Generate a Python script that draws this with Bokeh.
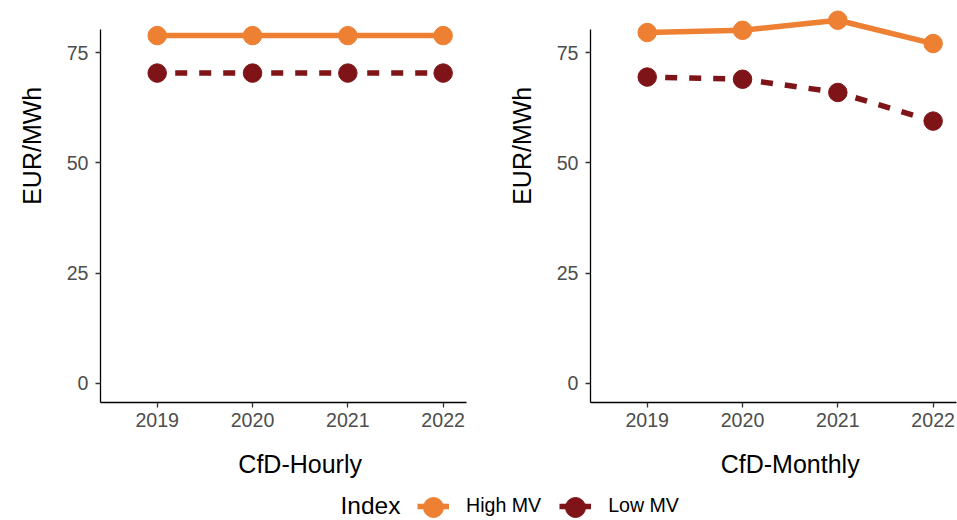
import math
from bokeh.plotting import figure
from bokeh.models import Range1d, FixedTicker, Legend, LegendItem, Label, ColumnDataSource
from bokeh.layouts import column, row
from bokeh.embed import file_html
from bokeh.resources import INLINE

# ---- data ----
years = [2019, 2020, 2021, 2022]
hourly_high = [78.9, 78.9, 78.9, 78.9]
hourly_low = [70.4, 70.4, 70.4, 70.4]
monthly_high = [79.6, 80.1, 82.4, 77.1]
monthly_low = [69.5, 69.0, 66.0, 59.5]
panel_titles = ["CfD-Hourly", "CfD-Monthly"]
series_names = ["High MV", "Low MV"]
legend_title = "Index"
y_label = "EUR/MWh"
y_ticks = [0, 25, 50, 75]

ORANGE = "#ED8033"
DARKRED = "#7F1418"
FONT = "Liberation Sans"
TICK_FS = "19.6px"
TITLE_FS = "25px"

X_START, X_END = 2018.405, 2022.245
Y_START, Y_END = -4.38, 84.83
Y_AXIS_TOP = 80.3

# ---- layout geometry (pixels) ----
FRAME_W, FRAME_H = 366, 393
TOP_H = 440            # height of the panel row
STRIP_H = 80           # height of the bottom strip (x titles + legend)
YLAB_W = 50            # width of the strip holding each y title
BORDER_L = [50, 54]    # left border of each panel figure
BORDER_R = [20, 1]
YTITLE_GAP = 68.3      # y-title baseline distance left of the frame
PX_X = FRAME_W / (X_END - X_START)
X_MID = sum(years) / len(years)


def blank(width, height):
    f = figure(width=width, height=height, x_range=Range1d(0, 1), y_range=Range1d(0, 1),
               x_axis_location=None, y_axis_location=None, min_border=0,
               toolbar_location=None, output_backend="svg")
    f.outline_line_color = None
    f.xgrid.visible = False
    f.ygrid.visible = False
    return f


def make_panel(high, low, border_left, border_right):
    p = figure(width=border_left + FRAME_W + border_right, height=TOP_H,
               x_range=Range1d(X_START, X_END), y_range=Range1d(Y_START, Y_END),
               output_backend="svg", toolbar_location=None,
               min_border_left=border_left, min_border_right=border_right,
               min_border_top=9, min_border_bottom=TOP_H - 9 - FRAME_H)
    p.outline_line_color = None
    p.xgrid.visible = False
    p.ygrid.visible = False

    src = ColumnDataSource(dict(year=years, high=high, low=low))
    p.line("year", "low", source=src, line_color=DARKRED, line_width=5.5,
           line_dash="12 12", line_dash_offset=6)
    p.line("year", "high", source=src, line_color=ORANGE, line_width=5.5)
    p.scatter("year", "low", source=src, size=18.5, color=DARKRED)
    p.scatter("year", "high", source=src, size=18.5, color=ORANGE)

    for ax in (p.xaxis[0], p.yaxis[0]):
        ax.axis_line_color = "black"
        ax.axis_line_width = 1.3
        ax.major_tick_line_color = "#333333"
        ax.major_tick_line_width = 1.3
        ax.major_tick_out = 5
        ax.major_tick_in = 0
        ax.minor_tick_line_color = None
        ax.major_label_text_font = FONT
        ax.major_label_text_font_size = TICK_FS
        ax.major_label_text_color = "#4D4D4D"

    p.xaxis.ticker = FixedTicker(ticks=years)
    p.xaxis.major_label_standoff = 5
    p.yaxis.ticker = FixedTicker(ticks=y_ticks)
    p.yaxis.bounds = (Y_START, Y_AXIS_TOP)
    p.yaxis.major_label_standoff = 7
    return p


def y_title_strip(baseline_x):
    f = blank(YLAB_W, TOP_H)
    f.add_layout(Label(x=baseline_x, y=TOP_H - 183.3, x_units="screen", y_units="screen",
                       text=y_label, angle=math.pi / 2, text_font=FONT,
                       text_font_size=TITLE_FS, text_color="black",
                       text_align="center", text_baseline="alphabetic"))
    return f


p1 = make_panel(hourly_high, hourly_low, BORDER_L[0], BORDER_R[0])
p2 = make_panel(monthly_high, monthly_low, BORDER_L[1], BORDER_R[1])

strip_lefts = [0, YLAB_W + p1.width]
frame_lefts = [strip_lefts[0] + YLAB_W + BORDER_L[0], strip_lefts[1] + YLAB_W + BORDER_L[1]]
y1 = y_title_strip(frame_lefts[0] - YTITLE_GAP - strip_lefts[0])
y2 = y_title_strip(frame_lefts[1] - YTITLE_GAP - strip_lefts[1])

# ---- bottom strip: x titles and legend ----
total_w = 2 * YLAB_W + p1.width + p2.width
pl = blank(total_w, STRIP_H)
for title, fl in zip(panel_titles, frame_lefts):
    pl.add_layout(Label(x=fl + (X_MID - X_START) * PX_X, y=STRIP_H - 23.5,
                        x_units="screen", y_units="screen", text=title,
                        text_font=FONT, text_font_size=TITLE_FS, text_color="black",
                        text_align="center", text_baseline="alphabetic"))

key_src = ColumnDataSource(dict(year=years, high=monthly_high, low=monthly_low))
l_hi = pl.line("year", "high", source=key_src, line_color=ORANGE, line_width=5.5)
l_lo = pl.line("year", "low", source=key_src, line_color=DARKRED, line_width=5.5, line_dash="12 12")
s_hi = pl.scatter("year", "high", source=key_src, size=18.5, color=ORANGE)
s_lo = pl.scatter("year", "low", source=key_src, size=18.5, color=DARKRED)

common = dict(orientation="horizontal", padding=0, margin=0, border_line_color=None,
              background_fill_alpha=0, label_text_font=FONT, label_text_font_size=TICK_FS,
              label_text_color="black")
leg_lines = Legend(items=[LegendItem(label=series_names[0], renderers=[l_hi]),
                          LegendItem(label=series_names[1], renderers=[l_lo])],
                   location=(417, 3), glyph_width=32, glyph_height=20, label_height=20,
                   label_standoff=17, spacing=18, **common)
# larger key dots, aligned on the same glyph centres
leg_dots = Legend(items=[LegendItem(label=" ", renderers=[s_hi]),
                         LegendItem(label=" ", renderers=[s_lo])],
                  location=(408, -12), glyph_width=50, glyph_height=50, label_height=50,
                  label_width=75, label_standoff=8, spacing=9, label_text_alpha=0, **common)
pl.add_layout(leg_lines)
pl.add_layout(leg_dots)
pl.add_layout(Label(x=340, y=15, x_units="screen", y_units="screen", text=legend_title,
                    text_font=FONT, text_font_size="24.5px", text_color="black",
                    text_baseline="middle", text_align="left"))

layout = column(row(y1, p1, y2, p2), pl)
open("out.html", "w").write(file_html(layout, INLINE))
